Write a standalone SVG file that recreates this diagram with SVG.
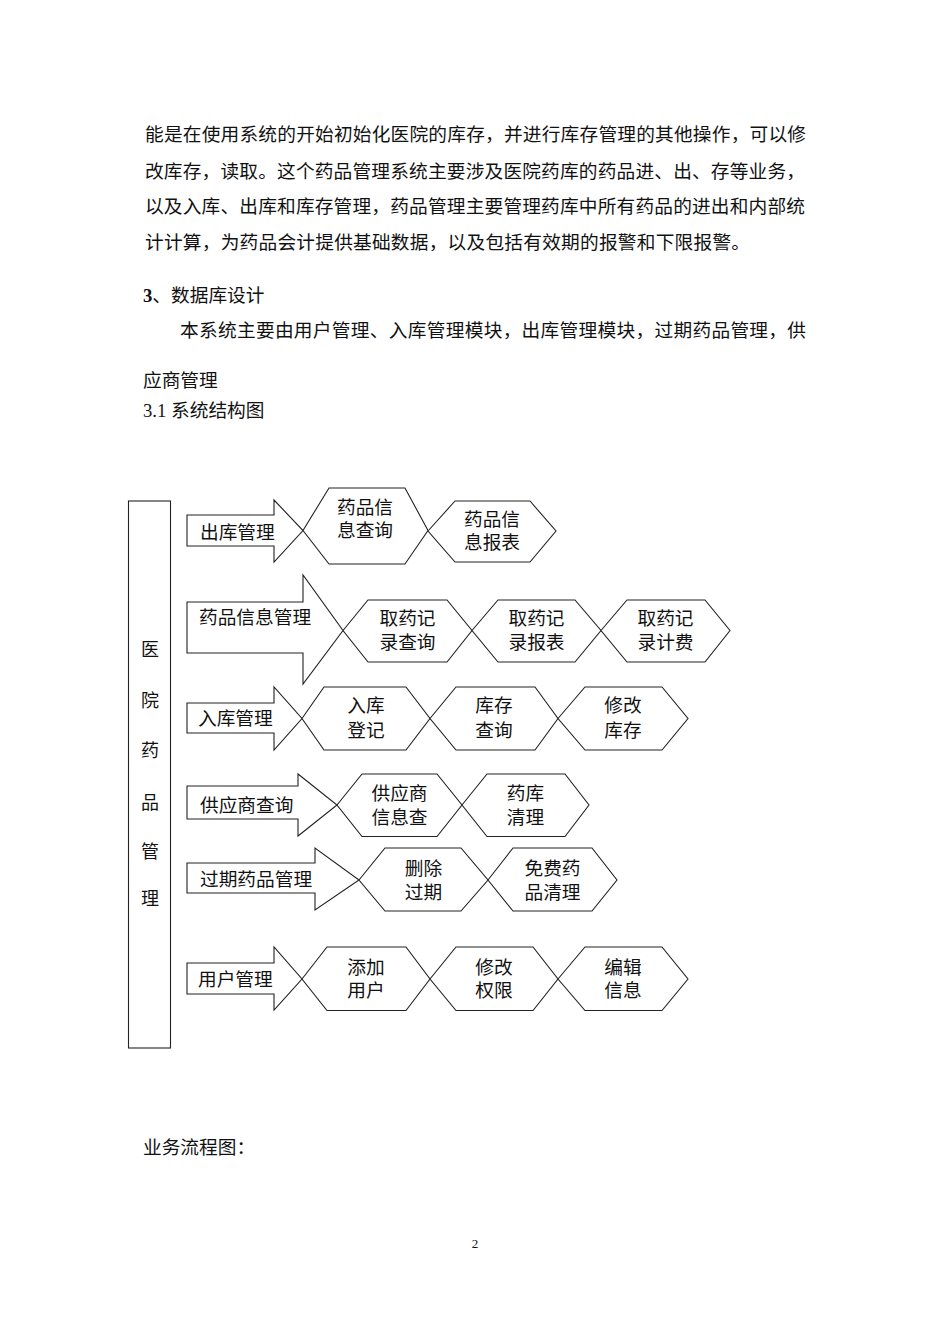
<svg xmlns="http://www.w3.org/2000/svg" width="950" height="1344" viewBox="0 0 950 1344">
<style>
text{font-family:"Liberation Serif","Noto Sans CJK SC",serif;fill:#111;}
.p{font-size:18.7px;}
.lb{font-size:18.7px;}
.hx{font-size:18.7px;text-anchor:middle;}
.vt{font-size:18px;text-anchor:middle;}
.sh{fill:#fff;stroke:#222;stroke-width:1.1;stroke-linejoin:miter;}
</style>
<rect width="950" height="1344" fill="#fff"/>
<g id="page-text">
<text class="p" x="145" y="141" textLength="661" lengthAdjust="spacing">能是在使用系统的开始初始化医院的库存，并进行库存管理的其他操作，可以修</text>
<text class="p" x="145" y="177.6" textLength="660" lengthAdjust="spacing">改库存，读取。这个药品管理系统主要涉及医院药库的药品进、出、存等业务，</text>
<text class="p" x="145" y="212.6" textLength="660" lengthAdjust="spacing">以及入库、出库和库存管理，药品管理主要管理药库中所有药品的进出和内部统</text>
<text class="p" x="145" y="249.3" textLength="605" lengthAdjust="spacing">计计算，为药品会计提供基础数据，以及包括有效期的报警和下限报警。</text>
<text class="p" x="143" y="301.6"><tspan font-weight="bold">3</tspan>、数据库设计</text>
<text class="p" x="180" y="337.3" textLength="626" lengthAdjust="spacing">本系统主要由用户管理、入库管理模块，出库管理模块，过期药品管理，供</text>
<text class="p" x="143" y="387.3">应商管理</text>
<text class="p" x="143" y="417.3">3.1 系统结构图</text>
<text class="p" x="143" y="1154.3">业务流程图：</text>
<text x="475" y="1248" font-size="13" text-anchor="middle">2</text>
</g>
<g id="root">
<rect class="sh" x="128.5" y="501" width="42" height="547"/>
<text class="vt" x="150" y="656">医</text>
<text class="vt" x="150" y="707">院</text>
<text class="vt" x="150" y="757">药</text>
<text class="vt" x="150" y="809">品</text>
<text class="vt" x="150" y="858">管</text>
<text class="vt" x="150" y="905">理</text>
</g>
<g id="connectors">
<polygon id="arrow-chuku" class="sh" points="187,515 274,515 274,500 303,530.5 274,562 274,546 187,546"/>
<polygon id="arrow-yaopin" class="sh" points="187,602 303,602 303,575 343,630.5 303,684 303,653 187,653"/>
<polygon id="arrow-ruku" class="sh" points="187,703 274,703 274,687 302,718.5 274,750 274,733 187,733"/>
<polygon id="arrow-gongying" class="sh" points="187,786 298,786 298,774 337,805 298,836 298,819 187,819"/>
<polygon id="arrow-guoqi" class="sh" points="187,863 315,863 315,848 359,880 315,910 315,893 187,893"/>
<polygon id="arrow-yonghu" class="sh" points="187,963 274,963 274,947 302,979 274,1010 274,994 187,994"/>
</g>
<g id="n-chuku-label"><text class="lb" x="200" y="538.5">出库管理</text></g>
<g id="n-yaopin-label"><text class="lb" x="199" y="623.5">药品信息管理</text></g>
<g id="n-ruku-label"><text class="lb" x="198" y="725">入库管理</text></g>
<g id="n-gongying-label"><text class="lb" x="200" y="812">供应商查询</text></g>
<g id="n-guoqi-label"><text class="lb" x="200" y="886">过期药品管理</text></g>
<g id="n-yonghu-label"><text class="lb" x="198" y="986">用户管理</text></g>

<g id="h1a"><polygon class="sh" points="303,530.5 329,488 405,488 428,530.5 405,564 329,564"/>
<text class="hx" x="365" y="513.5">药品信</text><text class="hx" x="365" y="537">息查询</text></g>
<g id="h1b"><polygon class="sh" points="428,531 455,501 530,501 556,531 530,562 455,562"/>
<text class="hx" x="492" y="526">药品信</text><text class="hx" x="492" y="548.5">息报表</text></g>

<g id="h2a"><polygon class="sh" points="343,630.5 368,600 447,600 472,630.5 447,662 368,662"/>
<text class="hx" x="407.5" y="625">取药记</text><text class="hx" x="407.5" y="648.5">录查询</text></g>
<g id="h2b"><polygon class="sh" points="472,630.5 498,600 575,600 601,630.5 575,662 498,662"/>
<text class="hx" x="536.5" y="625">取药记</text><text class="hx" x="536.5" y="648.5">录报表</text></g>
<g id="h2c"><polygon class="sh" points="601,630.5 627,600 705,600 730,630.5 705,662 627,662"/>
<text class="hx" x="665.5" y="625">取药记</text><text class="hx" x="665.5" y="648.5">录计费</text></g>

<g id="h3a"><polygon class="sh" points="302,718.5 324,687 406,687 430,718.5 406,750 324,750"/>
<text class="hx" x="366" y="712">入库</text><text class="hx" x="366" y="737">登记</text></g>
<g id="h3b"><polygon class="sh" points="430,718.5 456,687 535,687 558,718.5 535,750 456,750"/>
<text class="hx" x="494" y="712">库存</text><text class="hx" x="494" y="737">查询</text></g>
<g id="h3c"><polygon class="sh" points="558,718.5 585,687 662,687 688,718.5 662,750 585,750"/>
<text class="hx" x="623" y="712">修改</text><text class="hx" x="623" y="737">库存</text></g>

<g id="h4a"><polygon class="sh" points="337,805 362,774 437,774 462,805 437,836.5 362,836.5"/>
<text class="hx" x="399.5" y="800">供应商</text><text class="hx" x="399.5" y="823.5">信息查</text></g>
<g id="h4b"><polygon class="sh" points="462,805 487,774 565,774 589,805 565,836.5 487,836.5"/>
<text class="hx" x="525.5" y="800">药库</text><text class="hx" x="525.5" y="823.5">清理</text></g>

<g id="h5a"><polygon class="sh" points="359,880 385,848 461,848 488,880 461,911 385,911"/>
<text class="hx" x="423.5" y="875">删除</text><text class="hx" x="423.5" y="898.5">过期</text></g>
<g id="h5b"><polygon class="sh" points="488,880 513,848 592,848 617,880 592,911 513,911"/>
<text class="hx" x="552.5" y="875">免费药</text><text class="hx" x="552.5" y="898.5">品清理</text></g>

<g id="h6a"><polygon class="sh" points="302,979 327,947 406,947 430,979 406,1010.5 327,1010.5"/>
<text class="hx" x="366" y="973.5">添加</text><text class="hx" x="366" y="997">用户</text></g>
<g id="h6b"><polygon class="sh" points="430,979 456,947 533,947 558,979 533,1010.5 456,1010.5"/>
<text class="hx" x="494" y="973.5">修改</text><text class="hx" x="494" y="997">权限</text></g>
<g id="h6c"><polygon class="sh" points="558,979 585,947 662,947 688,979 662,1010.5 585,1010.5"/>
<text class="hx" x="623" y="973.5">编辑</text><text class="hx" x="623" y="997">信息</text></g>
</svg>
